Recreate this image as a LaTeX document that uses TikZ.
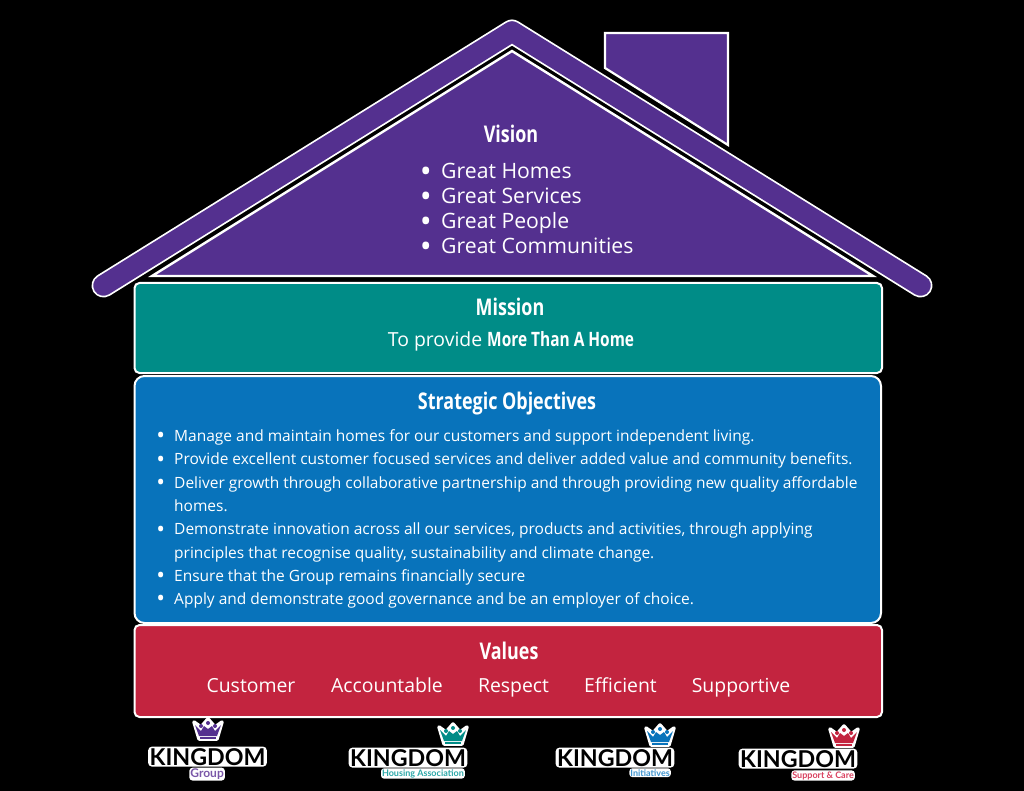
\documentclass[tikz,border=0pt]{standalone}
\usepackage{fontspec}
\setmainfont{Open Sans}
\newfontfamily\headfont[FakeStretch=0.78]{Open Sans Bold}
\newfontfamily\logofont{Lato Bold}
\definecolor{kpurple}{HTML}{54308F}
\definecolor{kteal}{HTML}{008C87}
\definecolor{kblue}{HTML}{0873BB}
\definecolor{kred}{HTML}{C3243F}
\definecolor{klteal}{HTML}{2BA8A8}
\definecolor{klblue}{HTML}{3D94CF}
\definecolor{klred}{HTML}{D9405F}
\definecolor{klpurple}{HTML}{7A57A8}
\newcommand{\bul}[1][0.59em]{\leavevmode\llap{\raisebox{-0.18em}{\scalebox{1.5}{\textbullet}}\hspace{#1}}}
\tikzset{
  panel/.style={draw=white,line width=2pt,rounded corners=5pt},
  heading/.style={text=white,font=\headfont\fontsize{23}{23}\selectfont,anchor=base},
  biglist/.style={text=white,font=\fontsize{21.2}{25}\selectfont,anchor=base west,inner sep=0pt},
  smalllist/.style={text=white,font=\fontsize{15.5}{23.4}\selectfont,anchor=base west,inner sep=0pt,align=left},
  valword/.style={text=white,font=\fontsize{19.4}{23}\selectfont,anchor=base,inner sep=0pt},
  logoword/.style={font=\logofont\fontsize{23.2}{25}\selectfont,anchor=base,inner sep=0pt,fill=white,rounded corners=4pt,inner xsep=1.5pt,inner ysep=1.5pt},
  logosub/.style={font=\logofont\fontsize{9}{10}\selectfont,anchor=base east,fill=white,rounded corners=3pt,inner xsep=1pt,inner ysep=1pt},
  crown/.pic={
    \path[fill=white,draw=white,line width=3.5pt,line join=round]
      (-14,-8) -- (-7,-3) -- (0,-11) -- (7,-3) -- (14,-8) -- (9,9) -- (-9,9) -- cycle;
    \fill[pic actions] (-13,-5) -- (-7,1) -- (-4,-4) -- (0,-1) -- (4,-4) -- (7,1) -- (13,-5) -- (9,6) -- (-9,6) -- cycle;
    \fill[pic actions] (-8,7) rectangle (8,9);
    \fill[pic actions] (-7,-4) circle (2) (0,-7) circle (2) (7,-4) circle (2);
  }
}
\begin{document}
\begin{tikzpicture}[x=1pt,y=-1pt]
\useasboundingbox (0,0) rectangle (1024,791);
\fill[black] (0,0) rectangle (1024,791);
% roof
\coordinate (roofL) at (103.5,285.5);
\coordinate (roofT) at (512,31.5);
\coordinate (roofR) at (920.5,285.5);
\draw[white,line width=24pt,line cap=round,line join=round] (roofL) -- (roofT) -- (roofR);
\draw[kpurple,line width=20.5pt,line cap=round,line join=round] (roofL) -- (roofT) -- (roofR);
% chimney
\draw[fill=kpurple,draw=white,line width=2.2pt] (605,33) -- (728,33) -- (728,145) -- (605,68) -- cycle;
% body of the house
\draw[fill=kpurple,draw=white,line width=2.4pt] (512,51) -- (873,276) -- (152,276) -- cycle;
\node[heading] (vision) at (511,143) {Vision};
\node[biglist] (v1) at (441,179) {\bul[0.44em]Great Homes};
\node[biglist] (v2) at (441,204) {\bul[0.44em]Great Services};
\node[biglist] (v3) at (441,229) {\bul[0.44em]Great People};
\node[biglist] (v4) at (441,254) {\bul[0.44em]Great Communities};
% mission
\draw[panel,fill=kteal] (134.5,283) rectangle (882,373);
\node[heading] (mission) at (510,316) {Mission};
\node[text=white,font=\fontsize{19.4}{23}\selectfont,anchor=base,inner sep=0pt] (mline) at (511,346) {To provide {\headfont\fontsize{19.8}{23}\selectfont More Than A Home}};
% strategic objectives
\draw[panel,fill=kblue,rounded corners=10pt] (134.5,376) rectangle (881,623);
\node[heading] (strat) at (507,409) {Strategic Objectives};
\node[smalllist] (s1) at (174,441) {\bul Manage and maintain homes for our customers and support independent living.};
\node[smalllist] (s2) at (174,464.5) {\bul Provide excellent customer focused services and deliver added value and community benefits.};
\node[smalllist] (s3) at (174,511.5) {\bul Deliver growth through collaborative partnership and through providing new quality affordable\\homes.};
\node[smalllist] (s4) at (174,558) {\bul Demonstrate innovation across all our services, products and activities, through applying\\principles that recognise quality, sustainability and climate change.};
\node[smalllist] (s5) at (174,581) {\bul Ensure that the Group remains financially secure};
\node[smalllist] (s6) at (174,604) {\bul Apply and demonstrate good governance and be an employer of choice.};
% values
\draw[panel,fill=kred] (134.5,625) rectangle (882,717);
\node[heading] (values) at (509,659) {Values};
\node[valword] (w1) at (251,692) {Customer};
\node[valword] (w2) at (387,692) {Accountable};
\node[valword] (w3) at (513.5,692) {Respect};
\node[valword] (w4) at (620.5,692) {Efficient};
\node[valword] (w5) at (741,692) {Supportive};
% logos
\pic[fill=kpurple] at (208,730) {crown};
\pic[fill=kteal] at (453,735) {crown};
\pic[fill=kblue] at (660,736) {crown};
\pic[fill=kred] at (844,737) {crown};
\node[logoword] (k1) at (207.5,765) {KINGDOM};
\node[logoword] (k2) at (408,766) {KINGDOM};
\node[logoword] (k3) at (615,766) {KINGDOM};
\node[logoword] (k4) at (798,767) {KINGDOM};
\node[logosub,text=klpurple,font=\logofont\fontsize{12}{12}\selectfont] (g1) at (225,777.5) {Group};
\node[logosub,text=klteal] (g2) at (465,776) {Housing Association};
\node[logosub,text=klblue] (g3) at (671,776) {Initiatives};
\node[logosub,text=klred] (g4) at (855,778) {Support \& Care};
\end{tikzpicture}
\end{document}
